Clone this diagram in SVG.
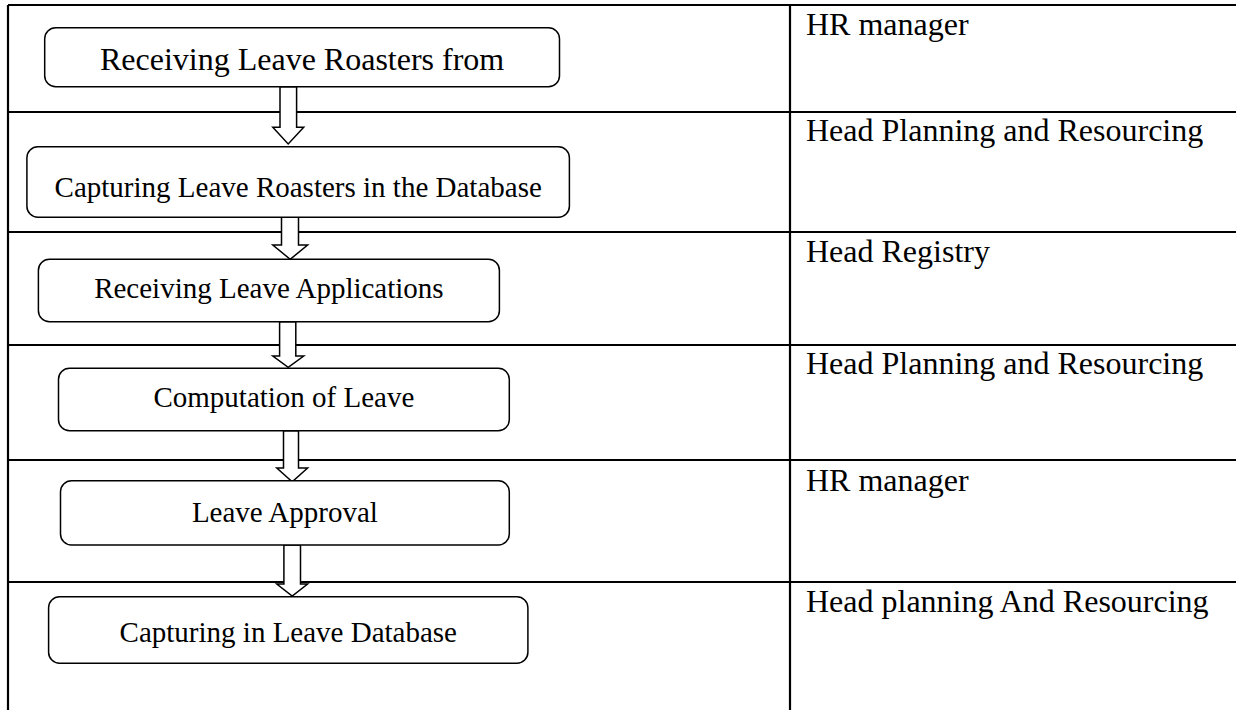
<svg xmlns="http://www.w3.org/2000/svg" width="1236" height="710" viewBox="0 0 1236 710">
  <style>
    .grid { stroke: #000; stroke-width: 2.2; fill: none; }
    .box { fill: #fff; stroke: #000; stroke-width: 1.5; }
    .arrow { fill: #fff; stroke: #000; stroke-width: 1.5; stroke-linejoin: miter; }
    text { font-family: "Liberation Serif", "Times New Roman", serif; fill: #000; }
    .step { font-size: 29px; text-anchor: middle; }
    .step-lg { font-size: 32px; text-anchor: middle; }
    .role { font-size: 32px; }
  </style>
  <rect width="1236" height="710" fill="#fff"/>

  <!-- table grid: open on the right and bottom -->
  <g id="table">
    <path class="grid" d="M8 5 H1236 M8 5 V710 M790 5 V710 M8 112 H1236 M8 232 H1236 M8 345 H1236 M8 460 H1236 M8 582 H1236"/>
  </g>

  <!-- responsible role per row -->
  <g id="roles">
    <text class="role" x="806" y="35">HR manager</text>
    <text class="role" x="806" y="141">Head Planning and Resourcing</text>
    <text class="role" x="806" y="262">Head Registry</text>
    <text class="role" x="806" y="374">Head Planning and Resourcing</text>
    <text class="role" x="806" y="491">HR manager</text>
    <text class="role" x="806" y="612">Head planning And Resourcing</text>
  </g>

  <!-- hollow block arrows between steps -->
  <g id="connectors">
    <path class="arrow" d="M280 86.7 V127.3 H272.8 L288.2 144 L303.7 127.3 H296.6 V86.7 Z"/>
    <path class="arrow" d="M281.5 217.3 V245 H272.8 L290.2 259.3 L307.6 245 H298.5 V217.3 Z"/>
    <path class="arrow" d="M279.6 321.7 V356 H272.8 L288.2 367.3 L303.7 356 H295.8 V321.7 Z"/>
    <path class="arrow" d="M283.5 430.7 V468 H276.8 L292.2 481.7 L307.6 468 H298.5 V430.7 Z"/>
    <path class="arrow" d="M283.9 545 V584 H276.8 L292.2 596 L307.6 584 H300.5 V545 Z"/>
  </g>

  <g id="step1">
    <rect class="box" x="44.7" y="27.7" width="514.8" height="59" rx="11"/>
    <text class="step-lg" x="302.1" y="70">Receiving Leave Roasters from</text>
  </g>
  <g id="step2">
    <rect class="box" x="26.9" y="146.7" width="542.5" height="70.6" rx="11"/>
    <text class="step" x="298.2" y="196.7">Capturing Leave Roasters in the Database</text>
  </g>
  <g id="step3">
    <rect class="box" x="38.4" y="259.3" width="461" height="62.4" rx="11"/>
    <text class="step" x="268.9" y="298.3">Receiving Leave Applications</text>
  </g>
  <g id="step4">
    <rect class="box" x="58.5" y="368.3" width="450.8" height="62.4" rx="11"/>
    <text class="step" x="283.9" y="406.7">Computation of Leave</text>
  </g>
  <g id="step5">
    <rect class="box" x="60.5" y="480.7" width="448.8" height="64.3" rx="11"/>
    <text class="step" x="284.9" y="521.7">Leave Approval</text>
  </g>
  <g id="step6">
    <rect class="box" x="48.6" y="596.7" width="479.3" height="66.6" rx="11"/>
    <text class="step" x="288.3" y="641.7">Capturing in Leave Database</text>
  </g>
</svg>
